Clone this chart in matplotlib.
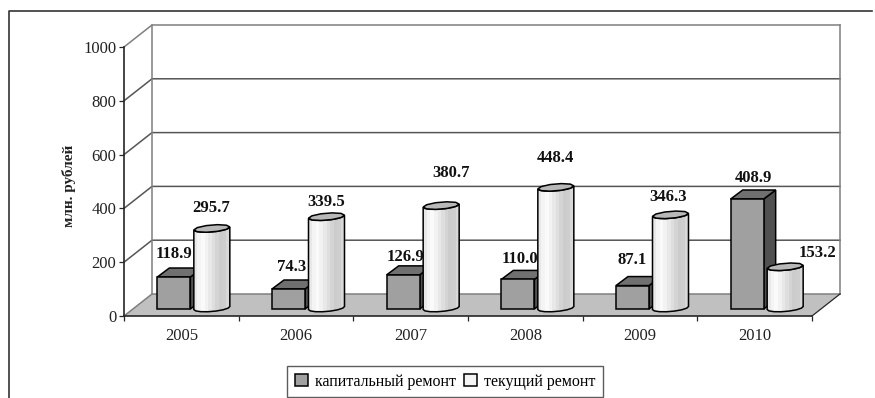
import numpy as np
import matplotlib
matplotlib.use("Agg")
import matplotlib.pyplot as plt
from matplotlib.patches import Polygon, Patch
from matplotlib.lines import Line2D

plt.rcParams['font.family'] = ['Liberation Serif', 'DejaVu Serif']

years = ['2005', '2006', '2007', '2008', '2009', '2010']
capital = [118.9, 74.3, 126.9, 110.0, 87.1, 408.9]
current = [295.7, 339.5, 380.7, 448.4, 346.3, 153.2]
series_names = ['капитальный ремонт', 'текущий ремонт']
y_ticks = [0, 200, 400, 600, 800, 1000]
y_label = 'млн. рублей'

# label offsets from the top of each mark, in pixels (layout, not data)
cap_off = [(0, 23), (3, 22), (2, 18), (2, 20), (0, 26), (6, 21)]
cur_off = [(-1, 21), (0, 16), (10, 34), (0, 30), (-2, 19), (32, 15)]

W, H = 875, 398
fig = plt.figure(figsize=(W / 100, H / 100), dpi=100)
ax = fig.add_axes([124 / W, 1 - 316 / H, 688 / W, 269 / H])
ax.set_xlim(0, len(years))
ax.set_ylim(0, 1000)
ax.patch.set_visible(False)
sx = len(years) / 688
sy = 1000 / 269
DX, DY = 28, 22
dark = '#262626'
grid = '#7f7f7f'

def P(x, y, px=0, py=0):
    return (x + px * sx, y + py * sy)

# floor and walls
n = len(years)
ax.add_patch(Polygon([P(0, 0), P(n, 0), P(n, 0, DX, DY), P(0, 0, DX, DY)],
                     fc='#c0c0c0', ec='none', zorder=1, clip_on=False))
for t in y_ticks:
    a, b, c = P(0, t), P(0, t, DX, DY), P(n, t, DX, DY)
    ax.plot([a[0], b[0], c[0]], [a[1], b[1], c[1]], color=grid if t in (0, 1000) else '#555555',
            lw=1.1, zorder=2, clip_on=False)
for xb in (0, n):
    a, b = P(xb, 0, DX, DY), P(xb, 1000, DX, DY)
    ax.plot([a[0], b[0]], [a[1], b[1]], color=grid, lw=1.1, zorder=2, clip_on=False)
a, b = P(n, 0), P(n, 0, DX, DY)
ax.plot([a[0], b[0]], [a[1], b[1]], color=dark, lw=0.9, zorder=2, clip_on=False)

BASE_X, BASE_Y = 9, 7
BW, CW = 33, 36
BDX, BDY = 12, 9
strips = ['#e8e8e8', '#f4f4f4', '#fafafa', '#f2f2f2', '#e8e8e8', '#dedede',
          '#d4d4d4', '#cccccc', '#cecece', '#d8d8d8']
z = 3
for i in range(n):
    cx = i + 0.5
    v = capital[i]
    L, R = -BW, 0
    def Q(px, val, py=0):
        return P(cx, val, BASE_X + px, BASE_Y + py)
    # box: side, top, front
    ax.add_patch(Polygon([Q(R, 0), Q(R, v), Q(R + BDX, v, BDY), Q(R + BDX, 0, BDY)],
                         fc='#505050', ec='black', lw=1.1, zorder=z, clip_on=False))
    ax.add_patch(Polygon([Q(L, v), Q(R, v), Q(R + BDX, v, BDY), Q(L + BDX, v, BDY)],
                         fc='#707070', ec='black', lw=1.1, zorder=z, clip_on=False))
    ax.add_patch(Polygon([Q(L, 0), Q(R, 0), Q(R, v), Q(L, v)],
                         fc='#a0a0a0', ec='black', lw=1.1, zorder=z, clip_on=False))
    # cylinder (end caps slightly tilted, as in an oblique projection)
    w = current[i]
    c0 = 21.5
    def rim(t, val):
        u = np.cos(t)
        return Q(c0 + CW / 2 * u, val, 3.5 * np.sin(t) + 1.5 * u + 1)
    theta = np.linspace(np.pi, 2 * np.pi, 8)
    low = [rim(t, 0) for t in theta]
    up = [rim(t, w) for t in theta]
    outline = low + up[::-1]
    clip = Polygon(outline, transform=ax.transData)
    edges = np.linspace(-CW / 2, CW / 2, len(strips) + 1)
    for k, col in enumerate(strips):
        p = ax.add_patch(Polygon([Q(c0 + edges[k], 0, -6), Q(c0 + edges[k + 1] + 0.5, 0, -6),
                                  Q(c0 + edges[k + 1] + 0.5, w, 6), Q(c0 + edges[k], w, 6)],
                                 fc=col, ec='none', zorder=z, clip_on=True))
        p.set_clip_path(clip)
    ax.add_patch(Polygon(outline, fc='none', ec='black', lw=1.1, zorder=z, clip_on=False))
    th = np.linspace(0, 2 * np.pi, 11)[:-1]
    ax.add_patch(Polygon([rim(t, w) for t in th],
                         fc='#b8b8b8', ec='black', lw=1.1, zorder=z, clip_on=False))
    # value labels
    ax.annotate(f'{v:.1f}', Q(L + BW / 2, v), xytext=(cap_off[i][0] * .72, cap_off[i][1] * .72),
                textcoords='offset points', ha='center', va='center', fontsize=12,
                fontweight='bold', color='#111111', zorder=10, annotation_clip=False)
    ax.annotate(f'{w:.1f}', Q(c0, w), xytext=(cur_off[i][0] * .72, cur_off[i][1] * .72),
                textcoords='offset points', ha='center', va='center', fontsize=12,
                fontweight='bold', color='#111111', zorder=10, annotation_clip=False)

# axes
for s in ('top', 'right'):
    ax.spines[s].set_visible(False)
for s in ('left', 'bottom'):
    ax.spines[s].set_color(dark)
    ax.spines[s].set_linewidth(1.2)
    ax.spines[s].set_zorder(8)
ax.set_yticks(y_ticks)
ax.set_yticklabels([str(t) for t in y_ticks], fontsize=12, color='#222222')
ax.set_xticks(np.arange(n + 1))
ax.set_xticklabels([])
ax.set_xticks(np.arange(n) + 0.5, minor=True)
ax.set_xticklabels(years, minor=True, fontsize=12, color='#222222')
ax.tick_params(axis='x', which='minor', length=0, pad=9)
ax.tick_params(axis='both', which='major', length=3.5, width=0.9, color=dark, pad=2)
fig.text(69 / W, 1 - 186 / H, y_label, rotation=90, ha='center', va='center',
         fontsize=11, fontweight='bold', color='#222222')

# outer frame
fig.add_artist(Line2D([9 / W, 9 / W, 872 / W], [0, 1 - 11 / H, 1 - 11 / H],
                      color='#333333', lw=1.2))

handles = [Patch(fc='#a0a0a0', ec='black', lw=1.1), Patch(fc='#f4f4f4', ec='black', lw=1.1)]
leg = fig.legend(handles, series_names, loc='center', bbox_to_anchor=(445 / W, 1 - 381.5 / H),
                 ncol=2, fontsize=11.5, frameon=True, fancybox=False, edgecolor='#333333',
                 handlelength=0.8, handleheight=0.8, handletextpad=0.45, columnspacing=0.5,
                 borderpad=0.5, borderaxespad=0)
leg.get_frame().set_linewidth(1.0)
fig.savefig('out.png', dpi=100)
